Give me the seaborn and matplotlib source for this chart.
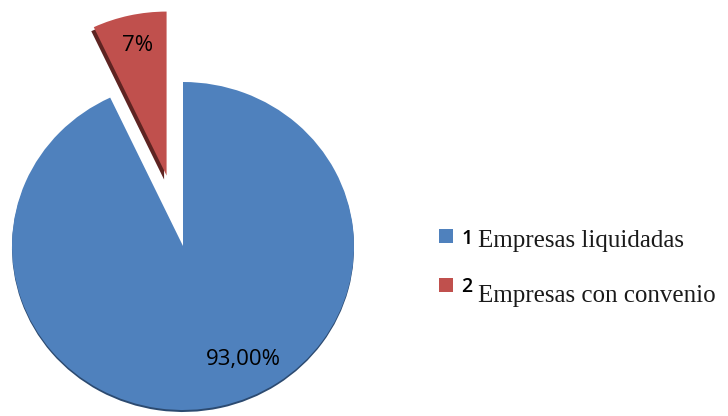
import matplotlib
matplotlib.use("Agg")
import matplotlib.pyplot as plt
from matplotlib.patches import Wedge, Rectangle
import numpy as np
import seaborn as sns

sns.set_theme(style="white")
plt.rcParams['font.family'] = ['Open Sans', 'DejaVu Sans']

# ---- data ----
categories = ["Empresas liquidadas", "Empresas con convenio"]
category_ids = ["1", "2"]
values = [93, 7]
pct_labels = ["93,00%", "7%"]
colors = ["#4F81BD", "#C0504D"]
edge_colors = ["#2c4a70", "#5e2422"]

W, H = 728, 416
fig = plt.figure(figsize=(W / 100, H / 100), dpi=100)
ax = fig.add_axes([0, 0, 1, 1])

# pixel mapping: center (183,246), rx=171, ry=164
cx, cy, rx, ry = 183, 246, 171, 164

wedges, _ = ax.pie(values, colors=colors, startangle=90, counterclock=False,
                   explode=[0, 0.44], radius=1.0, frame=True,
                   wedgeprops=dict(linewidth=0, zorder=3))
ax.set_aspect('auto', adjustable='box')
ax.set_xlim(-cx / rx, (W - cx) / rx)
ax.set_ylim((cy - H) / ry, cy / ry)
ax.set_position([0, 0, 1, 1])
ax.axis('off')

# 3D-like dark side edges
shifts = [(0.0, -2.0), (-2.5, -4.0)]
for w, ec, (sx, sy) in zip(wedges, edge_colors, shifts):
    c = w.center
    shadow = Wedge((c[0] + sx / rx, c[1] + sy / ry), w.r, w.theta1, w.theta2,
                   facecolor=ec, edgecolor='none', zorder=2)
    ax.add_patch(shadow)

# percentage labels
label_polar = [(0.78, -63.0), (0.81, 102.0)]
for w, txt, (d, ang) in zip(wedges, pct_labels, label_polar):
    c = w.center
    x = c[0] + d * np.cos(np.radians(ang))
    y = c[1] + d * np.sin(np.radians(ang))
    ax.text(x, y, txt, ha='center', va='center', fontsize=16,
            color='black', zorder=5)

# legend
rows = [(229, 244, 247), (278, 292, 302)]
for (sq_top, num_base, txt_base), cid, cat, col in zip(rows, category_ids, categories, colors):
    fig.patches.append(Rectangle((439 / W, 1 - (sq_top + 14) / H), 14 / W, 14 / H,
                                 transform=fig.transFigure, facecolor=col,
                                 edgecolor='none'))
    fig.text(461 / W, 1 - num_base / H, cid, fontsize=14, fontweight='semibold',
             va='baseline', ha='left', color='black')
    fig.text(478 / W, 1 - txt_base / H, cat, fontsize=18,
             family=['Liberation Serif', 'DejaVu Serif'],
             va='baseline', ha='left', color='#1a1a1a')

fig.savefig("out.png", dpi=100, facecolor='white')
